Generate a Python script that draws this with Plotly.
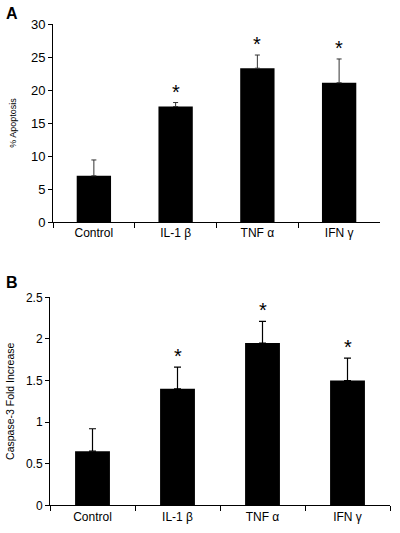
import plotly.graph_objects as go

categories = ["Control", "IL-1 β", "TNF α", "IFN γ"]
apoptosis = [7.0, 17.5, 23.3, 21.1]
apoptosis_err = [2.4, 0.6, 2.0, 3.6]
caspase = [0.65, 1.40, 1.95, 1.50]
caspase_err = [0.27, 0.26, 0.26, 0.27]
sig_a = [False, True, True, True]
sig_b = [False, True, True, True]

W, H = 400, 533
def px_x(a, b):
    return [a / W, b / W]
def px_y(top, bottom):
    return [(H - bottom) / H, (H - top) / H]

FONT = "Liberation Sans, Arial, sans-serif"
fig = go.Figure()

fig.add_trace(go.Bar(x=categories, y=apoptosis, width=0.42, marker=dict(color="black", line=dict(width=0)),
                     error_y=dict(type="data", array=apoptosis_err, arrayminus=[0]*4, symmetric=False,
                                  color="#333", thickness=1, width=2.5),
                     xaxis="x", yaxis="y", showlegend=False, hoverinfo="skip"))
fig.add_trace(go.Bar(x=categories, y=caspase, width=0.41, marker=dict(color="black", line=dict(width=0)),
                     error_y=dict(type="data", array=caspase_err, arrayminus=[0]*4, symmetric=False,
                                  color="black", thickness=1.2, width=3.5),
                     xaxis="x2", yaxis="y2", showlegend=False, hoverinfo="skip"))

ann = []
for c, v, e, s in zip(categories, apoptosis, apoptosis_err, sig_a):
    if s:
        ann.append(dict(x=c, y=v + e, xref="x", yref="y", text="*", showarrow=False,
                        yanchor="bottom", yshift=-2, font=dict(size=20, family=FONT, color="black")))
for c, v, e, s in zip(categories, caspase, caspase_err, sig_b):
    if s:
        ann.append(dict(x=c, y=v + e, xref="x2", yref="y2", text="*", showarrow=False,
                        yanchor="bottom", yshift=-2, font=dict(size=20, family=FONT, color="black")))
ann.append(dict(x=12 / W, y=1 - 14 / H, xref="paper", yref="paper", text="<b>A</b>", showarrow=False,
                xanchor="center", yanchor="middle", font=dict(size=16, family=FONT, color="black")))
ann.append(dict(x=12 / W, y=1 - 282 / H, xref="paper", yref="paper", text="<b>B</b>", showarrow=False,
                xanchor="center", yanchor="middle", font=dict(size=16, family=FONT, color="black")))

xcommon = dict(type="category", range=[-0.5, 3.5], showline=True, linecolor="black", linewidth=1,
               ticks="outside", tickson="boundaries", ticklen=5, tickcolor="black",
               tickfont=dict(size=12, family=FONT, color="black"), showgrid=False, zeroline=False,
               fixedrange=True, automargin=False)
ycommon = dict(showline=True, linecolor="black", linewidth=1, ticks="outside", ticklen=4, tickcolor="black",
               showgrid=False, zeroline=False, fixedrange=True, automargin=False)

fig.update_layout(
    template="none",
    width=W, height=H, margin=dict(l=0, r=0, t=0, b=0, pad=0),
    paper_bgcolor="white", plot_bgcolor="white",
    xaxis=dict(xcommon, domain=px_x(53, 380), anchor="y"),
    yaxis=dict(ycommon, domain=px_y(24, 222), range=[0, 30], dtick=5, anchor="x",
               tickfont=dict(size=13, family=FONT, color="black"),
               title=dict(text="% Apoptosis", font=dict(size=9, family=FONT, color="black"), standoff=12)),
    xaxis2=dict(xcommon, domain=px_x(50, 390), anchor="y2"),
    yaxis2=dict(ycommon, domain=px_y(297.3, 505.3), range=[0, 2.5], dtick=0.5, anchor="x2",
                tickfont=dict(size=12, family=FONT, color="black"),
                title=dict(text="Caspase-3 Fold Increase", font=dict(size=10.5, family=FONT, color="black"), standoff=9)),
    annotations=ann,
)

fig.write_html("out.html", config={"displayModeBar": False, "staticPlot": True},
               post_script="document.body.style.margin='0';document.body.style.overflow='hidden';")
